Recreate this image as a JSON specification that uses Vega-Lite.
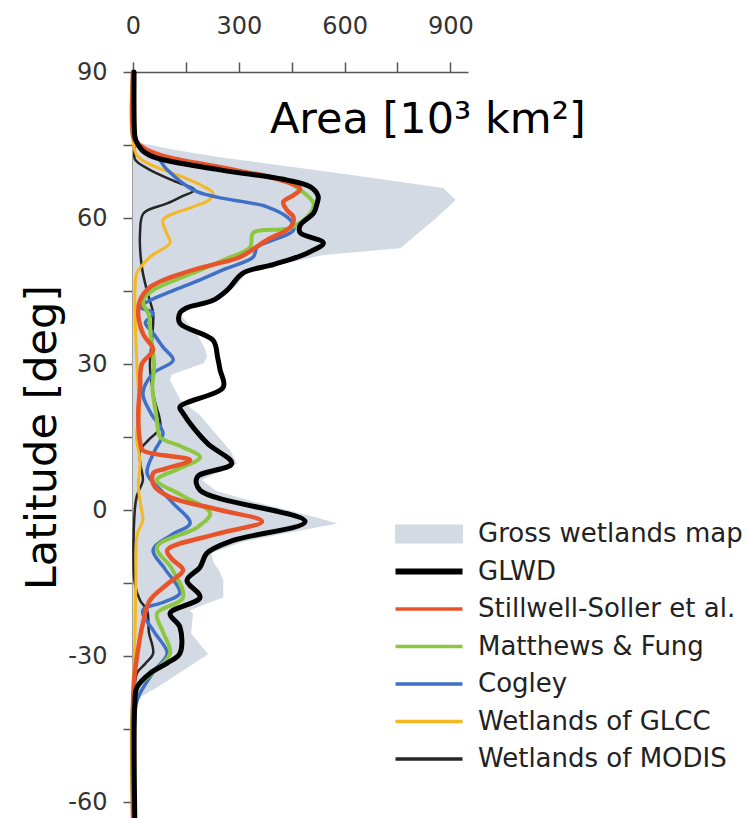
{
  "$schema": "https://vega.github.io/schema/vega-lite/v6.json",
  "width": 335,
  "height": 745,
  "autosize": {"type": "none"},
  "padding": {"left": 133, "top": 72, "right": 279, "bottom": 1},
  "config": {"view": {"stroke": null}, "font": "DejaVu Sans", "axis": {"grid": false}},
  "layer": [
    {
      "data": {"values": [
        {"series":"Gross wetlands map","lat":-63,"v":0},{"series":"Gross wetlands map","lat":-41,"v":0},{"series":"Gross wetlands map","lat":-40,"v":5},{"series":"Gross wetlands map","lat":-38.4,"v":20},{"series":"Gross wetlands map","lat":-36.4,"v":68},{"series":"Gross wetlands map","lat":-32.9,"v":142},{"series":"Gross wetlands map","lat":-29.6,"v":213},{"series":"Gross wetlands map","lat":-27.5,"v":190},{"series":"Gross wetlands map","lat":-25.3,"v":165},{"series":"Gross wetlands map","lat":-21.2,"v":170},{"series":"Gross wetlands map","lat":-20.6,"v":160},{"series":"Gross wetlands map","lat":-19,"v":215},{"series":"Gross wetlands map","lat":-17.9,"v":256},{"series":"Gross wetlands map","lat":-14.4,"v":256},{"series":"Gross wetlands map","lat":-12.5,"v":245},{"series":"Gross wetlands map","lat":-10.7,"v":228},{"series":"Gross wetlands map","lat":-8.8,"v":222},{"series":"Gross wetlands map","lat":-6.5,"v":310},{"series":"Gross wetlands map","lat":-4.7,"v":437},{"series":"Gross wetlands map","lat":-2.7,"v":580},{"series":"Gross wetlands map","lat":-1.5,"v":520},{"series":"Gross wetlands map","lat":0,"v":440},{"series":"Gross wetlands map","lat":2,"v":330},{"series":"Gross wetlands map","lat":4,"v":235},{"series":"Gross wetlands map","lat":6.2,"v":195},{"series":"Gross wetlands map","lat":9.6,"v":295},{"series":"Gross wetlands map","lat":12.3,"v":275},{"series":"Gross wetlands map","lat":19.5,"v":190},{"series":"Gross wetlands map","lat":22.6,"v":135},{"series":"Gross wetlands map","lat":26.7,"v":105},{"series":"Gross wetlands map","lat":27.9,"v":110},{"series":"Gross wetlands map","lat":30.2,"v":200},{"series":"Gross wetlands map","lat":31.4,"v":210},{"series":"Gross wetlands map","lat":33,"v":205},{"series":"Gross wetlands map","lat":36.4,"v":180},{"series":"Gross wetlands map","lat":38.4,"v":155},{"series":"Gross wetlands map","lat":40.5,"v":130},{"series":"Gross wetlands map","lat":42,"v":170},{"series":"Gross wetlands map","lat":43.1,"v":230},{"series":"Gross wetlands map","lat":45.2,"v":275},{"series":"Gross wetlands map","lat":46.2,"v":295},{"series":"Gross wetlands map","lat":48.7,"v":320},{"series":"Gross wetlands map","lat":50.5,"v":420},{"series":"Gross wetlands map","lat":52.4,"v":540},{"series":"Gross wetlands map","lat":53.8,"v":758},{"series":"Gross wetlands map","lat":57,"v":810},{"series":"Gross wetlands map","lat":60,"v":860},{"series":"Gross wetlands map","lat":63.7,"v":915},{"series":"Gross wetlands map","lat":66.2,"v":880},{"series":"Gross wetlands map","lat":68.8,"v":625},{"series":"Gross wetlands map","lat":72.5,"v":247},{"series":"Gross wetlands map","lat":74,"v":120},{"series":"Gross wetlands map","lat":75.4,"v":20},{"series":"Gross wetlands map","lat":76.5,"v":0},{"series":"Gross wetlands map","lat":90,"v":0}
      ]},
      "mark": {"type": "area", "orient": "horizontal", "interpolate": "linear"},
      "encoding": {
        "x": {"field": "v", "type": "quantitative", "stack": null,
          "scale": {"domain": [0, 950], "nice": false, "zero": false},
          "axis": {"orient": "top", "values": [0,150,300,450,600,750,900], "labelExpr": "datum.value % 300 === 0 ? datum.label : ''", "title": null, "labelFontSize": 24, "labelColor": "#333", "labelPadding": 24, "tickSize": 10, "tickColor": "#555", "tickWidth": 1.5, "domainColor": "#555", "domainWidth": 1.5, "labelFlush": false, "labelOverlap": false}},
        "y": {"field": "lat", "type": "quantitative",
          "scale": {"domain": [-63, 90], "nice": false, "zero": false},
          "axis": {"values": [-60,-45,-30,-15,0,15,30,45,60,75,90], "labelExpr": "datum.value % 30 === 0 ? '' + datum.value : ''", "title": "Latitude [deg]", "titleFontSize": 43, "titleFont": "DejaVu Sans", "titleFontWeight": "normal", "titleColor": "#000", "titleX": -78, "titleY": 365, "titleAngle": 270, "titleBaseline": "alphabetic", "titleAlign": "center", "labelFontSize": 24, "labelColor": "#333", "labelPadding": 16, "tickSize": 10, "tickColor": "#555", "tickWidth": 1.5, "domainColor": "#a0a0a0", "domainWidth": 3, "labelFlush": false, "labelOverlap": false}},
        "color": {"field": "series", "type": "nominal",
          "scale": {"domain": ["Gross wetlands map","GLWD","Stillwell-Soller et al.","Matthews & Fung","Cogley","Wetlands of GLCC","Wetlands of MODIS"],
                    "range": ["#d3dae3","#000000","#e8542a","#8dc641","#3f6fc6","#f5b820","#262626"]},
          "legend": {"orient": "none", "legendX": 283, "legendY": 449, "title": null, "symbolType": "stroke", "symbolSize": 4489, "labelFont": "DejaVu Sans", "labelFontSize": 26, "labelColor": "#222", "labelOffset": 36, "rowPadding": 11.5, "labelLimit": 400,
            "encode": {"symbols": {"update": {
              "shape": {"signal": "datum.value === 'Gross wetlands map' ? 'M-1,-0.27H1V0.27H-1Z' : 'stroke'"},
              "fill": {"signal": "datum.value === 'Gross wetlands map' ? '#d3dae3' : 'transparent'"},
              "stroke": {"signal": "datum.value === 'Gross wetlands map' ? '#c3cad4' : scale('color', datum.value)"},
              "strokeWidth": {"signal": "datum.value === 'GLWD' ? 6 : datum.value === 'Gross wetlands map' ? 1 : 3.5"},
              "opacity": {"value": 1}
            }}}}}
      }
    },
    {
      "data": {"values": [
        {"series":"Wetlands of MODIS","lat":90,"v":2},{"series":"Wetlands of MODIS","lat":77,"v":3},{"series":"Wetlands of MODIS","lat":74,"v":4},{"series":"Wetlands of MODIS","lat":72,"v":6},{"series":"Wetlands of MODIS","lat":69.9,"v":48},{"series":"Wetlands of MODIS","lat":67.5,"v":120},{"series":"Wetlands of MODIS","lat":65.8,"v":175},{"series":"Wetlands of MODIS","lat":64.5,"v":140},{"series":"Wetlands of MODIS","lat":63,"v":97},{"series":"Wetlands of MODIS","lat":61,"v":30},{"series":"Wetlands of MODIS","lat":57,"v":20},{"series":"Wetlands of MODIS","lat":50,"v":25},{"series":"Wetlands of MODIS","lat":45,"v":40},{"series":"Wetlands of MODIS","lat":43,"v":48},{"series":"Wetlands of MODIS","lat":40.5,"v":57},{"series":"Wetlands of MODIS","lat":36,"v":55},{"series":"Wetlands of MODIS","lat":29.4,"v":48},{"series":"Wetlands of MODIS","lat":23,"v":60},{"series":"Wetlands of MODIS","lat":17,"v":77},{"series":"Wetlands of MODIS","lat":14.5,"v":45},{"series":"Wetlands of MODIS","lat":12.3,"v":20},{"series":"Wetlands of MODIS","lat":9,"v":22},{"series":"Wetlands of MODIS","lat":6.2,"v":28},{"series":"Wetlands of MODIS","lat":3,"v":11},{"series":"Wetlands of MODIS","lat":0,"v":5},{"series":"Wetlands of MODIS","lat":-15,"v":5},{"series":"Wetlands of MODIS","lat":-18.5,"v":20},{"series":"Wetlands of MODIS","lat":-20.6,"v":40},{"series":"Wetlands of MODIS","lat":-25,"v":45},{"series":"Wetlands of MODIS","lat":-29.4,"v":57},{"series":"Wetlands of MODIS","lat":-31.5,"v":35},{"series":"Wetlands of MODIS","lat":-33.5,"v":11},{"series":"Wetlands of MODIS","lat":-40,"v":3},{"series":"Wetlands of MODIS","lat":-63,"v":2},

        {"series":"Wetlands of GLCC","lat":90,"v":0},{"series":"Wetlands of GLCC","lat":76,"v":0},{"series":"Wetlands of GLCC","lat":73,"v":10},{"series":"Wetlands of GLCC","lat":71.3,"v":40},{"series":"Wetlands of GLCC","lat":68.4,"v":142},{"series":"Wetlands of GLCC","lat":66.5,"v":200},{"series":"Wetlands of GLCC","lat":65.1,"v":227},{"series":"Wetlands of GLCC","lat":63.7,"v":215},{"series":"Wetlands of GLCC","lat":62.3,"v":170},{"series":"Wetlands of GLCC","lat":59.6,"v":85},{"series":"Wetlands of GLCC","lat":57,"v":95},{"series":"Wetlands of GLCC","lat":54.9,"v":105},{"series":"Wetlands of GLCC","lat":52,"v":48},{"series":"Wetlands of GLCC","lat":48.7,"v":11},{"series":"Wetlands of GLCC","lat":45.8,"v":6},{"series":"Wetlands of GLCC","lat":40,"v":6},{"series":"Wetlands of GLCC","lat":30,"v":11},{"series":"Wetlands of GLCC","lat":25,"v":15},{"series":"Wetlands of GLCC","lat":20,"v":18},{"series":"Wetlands of GLCC","lat":15,"v":10},{"series":"Wetlands of GLCC","lat":10,"v":20},{"series":"Wetlands of GLCC","lat":5,"v":15},{"series":"Wetlands of GLCC","lat":1,"v":22},{"series":"Wetlands of GLCC","lat":-2,"v":28},{"series":"Wetlands of GLCC","lat":-5,"v":12},{"series":"Wetlands of GLCC","lat":-15,"v":8},{"series":"Wetlands of GLCC","lat":-25,"v":6},{"series":"Wetlands of GLCC","lat":-35,"v":2},{"series":"Wetlands of GLCC","lat":-40,"v":0},{"series":"Wetlands of GLCC","lat":-63,"v":0},

        {"series":"Cogley","lat":90,"v":0},{"series":"Cogley","lat":77,"v":0},{"series":"Cogley","lat":76,"v":5},{"series":"Cogley","lat":74,"v":30},{"series":"Cogley","lat":72.5,"v":68},{"series":"Cogley","lat":69.9,"v":97},{"series":"Cogley","lat":65.8,"v":170},{"series":"Cogley","lat":64.3,"v":238},{"series":"Cogley","lat":62.3,"v":380},{"series":"Cogley","lat":59.6,"v":446},{"series":"Cogley","lat":57.5,"v":455},{"series":"Cogley","lat":55.5,"v":398},{"series":"Cogley","lat":54,"v":352},{"series":"Cogley","lat":52,"v":341},{"series":"Cogley","lat":49.5,"v":260},{"series":"Cogley","lat":47.3,"v":190},{"series":"Cogley","lat":45,"v":110},{"series":"Cogley","lat":43.1,"v":48},{"series":"Cogley","lat":41.7,"v":20},{"series":"Cogley","lat":40.5,"v":57},{"series":"Cogley","lat":38.5,"v":35},{"series":"Cogley","lat":36.4,"v":57},{"series":"Cogley","lat":33.5,"v":85},{"series":"Cogley","lat":30.8,"v":114},{"series":"Cogley","lat":28.1,"v":57},{"series":"Cogley","lat":24,"v":28},{"series":"Cogley","lat":20,"v":50},{"series":"Cogley","lat":15.8,"v":85},{"series":"Cogley","lat":12,"v":60},{"series":"Cogley","lat":7.6,"v":40},{"series":"Cogley","lat":4,"v":80},{"series":"Cogley","lat":1.4,"v":114},{"series":"Cogley","lat":-2.7,"v":162},{"series":"Cogley","lat":-5,"v":110},{"series":"Cogley","lat":-8.2,"v":57},{"series":"Cogley","lat":-12,"v":90},{"series":"Cogley","lat":-17,"v":133},{"series":"Cogley","lat":-18.8,"v":90},{"series":"Cogley","lat":-20.6,"v":28},{"series":"Cogley","lat":-25,"v":60},{"series":"Cogley","lat":-29.4,"v":97},{"series":"Cogley","lat":-33,"v":60},{"series":"Cogley","lat":-37.6,"v":20},{"series":"Cogley","lat":-40,"v":8},{"series":"Cogley","lat":-55,"v":3},{"series":"Cogley","lat":-63,"v":2},

        {"series":"Matthews & Fung","lat":90,"v":0},{"series":"Matthews & Fung","lat":77,"v":0},{"series":"Matthews & Fung","lat":75,"v":15},{"series":"Matthews & Fung","lat":73,"v":60},{"series":"Matthews & Fung","lat":70,"v":250},{"series":"Matthews & Fung","lat":68,"v":420},{"series":"Matthews & Fung","lat":65.8,"v":474},{"series":"Matthews & Fung","lat":63,"v":512},{"series":"Matthews & Fung","lat":61,"v":503},{"series":"Matthews & Fung","lat":58,"v":446},{"series":"Matthews & Fung","lat":57,"v":341},{"series":"Matthews & Fung","lat":54,"v":332},{"series":"Matthews & Fung","lat":51.5,"v":260},{"series":"Matthews & Fung","lat":49.3,"v":190},{"series":"Matthews & Fung","lat":47,"v":110},{"series":"Matthews & Fung","lat":45.2,"v":57},{"series":"Matthews & Fung","lat":43,"v":28},{"series":"Matthews & Fung","lat":40,"v":45},{"series":"Matthews & Fung","lat":36,"v":50},{"series":"Matthews & Fung","lat":30,"v":60},{"series":"Matthews & Fung","lat":25,"v":55},{"series":"Matthews & Fung","lat":20,"v":65},{"series":"Matthews & Fung","lat":17,"v":70},{"series":"Matthews & Fung","lat":15,"v":77},{"series":"Matthews & Fung","lat":13,"v":140},{"series":"Matthews & Fung","lat":10.9,"v":190},{"series":"Matthews & Fung","lat":8.5,"v":130},{"series":"Matthews & Fung","lat":6.2,"v":68},{"series":"Matthews & Fung","lat":3,"v":140},{"series":"Matthews & Fung","lat":-0.6,"v":219},{"series":"Matthews & Fung","lat":-3.5,"v":182},{"series":"Matthews & Fung","lat":-7.6,"v":68},{"series":"Matthews & Fung","lat":-12,"v":110},{"series":"Matthews & Fung","lat":-17.9,"v":142},{"series":"Matthews & Fung","lat":-21.2,"v":68},{"series":"Matthews & Fung","lat":-25,"v":85},{"series":"Matthews & Fung","lat":-29.4,"v":105},{"series":"Matthews & Fung","lat":-34.3,"v":40},{"series":"Matthews & Fung","lat":-36.4,"v":11},{"series":"Matthews & Fung","lat":-40,"v":0},{"series":"Matthews & Fung","lat":-63,"v":0},

        {"series":"Stillwell-Soller et al.","lat":90,"v":0},{"series":"Stillwell-Soller et al.","lat":77,"v":0},{"series":"Stillwell-Soller et al.","lat":76,"v":5},{"series":"Stillwell-Soller et al.","lat":74,"v":40},{"series":"Stillwell-Soller et al.","lat":72.5,"v":100},{"series":"Stillwell-Soller et al.","lat":70,"v":280},{"series":"Stillwell-Soller et al.","lat":68,"v":410},{"series":"Stillwell-Soller et al.","lat":66,"v":474},{"series":"Stillwell-Soller et al.","lat":64.7,"v":455},{"series":"Stillwell-Soller et al.","lat":63.3,"v":426},{"series":"Stillwell-Soller et al.","lat":61.6,"v":437},{"series":"Stillwell-Soller et al.","lat":60.2,"v":455},{"series":"Stillwell-Soller et al.","lat":58.1,"v":446},{"series":"Stillwell-Soller et al.","lat":55.5,"v":380},{"series":"Stillwell-Soller et al.","lat":52,"v":304},{"series":"Stillwell-Soller et al.","lat":50.5,"v":230},{"series":"Stillwell-Soller et al.","lat":48.7,"v":142},{"series":"Stillwell-Soller et al.","lat":45.8,"v":48},{"series":"Stillwell-Soller et al.","lat":43.1,"v":20},{"series":"Stillwell-Soller et al.","lat":40,"v":15},{"series":"Stillwell-Soller et al.","lat":36,"v":30},{"series":"Stillwell-Soller et al.","lat":33,"v":57},{"series":"Stillwell-Soller et al.","lat":30,"v":25},{"series":"Stillwell-Soller et al.","lat":25,"v":20},{"series":"Stillwell-Soller et al.","lat":20,"v":15},{"series":"Stillwell-Soller et al.","lat":14,"v":20},{"series":"Stillwell-Soller et al.","lat":12.3,"v":28},{"series":"Stillwell-Soller et al.","lat":10.3,"v":162},{"series":"Stillwell-Soller et al.","lat":8.5,"v":90},{"series":"Stillwell-Soller et al.","lat":7.6,"v":57},{"series":"Stillwell-Soller et al.","lat":5,"v":60},{"series":"Stillwell-Soller et al.","lat":2.7,"v":105},{"series":"Stillwell-Soller et al.","lat":0,"v":250},{"series":"Stillwell-Soller et al.","lat":-2.3,"v":366},{"series":"Stillwell-Soller et al.","lat":-5,"v":230},{"series":"Stillwell-Soller et al.","lat":-8.2,"v":97},{"series":"Stillwell-Soller et al.","lat":-10,"v":110},{"series":"Stillwell-Soller et al.","lat":-12.3,"v":142},{"series":"Stillwell-Soller et al.","lat":-15,"v":100},{"series":"Stillwell-Soller et al.","lat":-18.5,"v":48},{"series":"Stillwell-Soller et al.","lat":-23.2,"v":28},{"series":"Stillwell-Soller et al.","lat":-30.2,"v":11},{"series":"Stillwell-Soller et al.","lat":-35,"v":3},{"series":"Stillwell-Soller et al.","lat":-40,"v":0},{"series":"Stillwell-Soller et al.","lat":-63,"v":0},

        {"series":"GLWD","lat":90,"v":3},{"series":"GLWD","lat":77,"v":5},{"series":"GLWD","lat":76,"v":8},{"series":"GLWD","lat":74,"v":25},{"series":"GLWD","lat":72.5,"v":60},{"series":"GLWD","lat":69.9,"v":247},{"series":"GLWD","lat":67.8,"v":437},{"series":"GLWD","lat":66.4,"v":503},{"series":"GLWD","lat":64.5,"v":525},{"series":"GLWD","lat":63,"v":522},{"series":"GLWD","lat":61,"v":512},{"series":"GLWD","lat":58.5,"v":474},{"series":"GLWD","lat":57,"v":474},{"series":"GLWD","lat":54.9,"v":540},{"series":"GLWD","lat":52.8,"v":494},{"series":"GLWD","lat":50.5,"v":400},{"series":"GLWD","lat":48.7,"v":312},{"series":"GLWD","lat":45.2,"v":267},{"series":"GLWD","lat":43.1,"v":227},{"series":"GLWD","lat":41.5,"v":150},{"series":"GLWD","lat":40.5,"v":133},{"series":"GLWD","lat":38.4,"v":133},{"series":"GLWD","lat":34.9,"v":227},{"series":"GLWD","lat":31.4,"v":240},{"series":"GLWD","lat":28.8,"v":247},{"series":"GLWD","lat":25.3,"v":256},{"series":"GLWD","lat":21.2,"v":133},{"series":"GLWD","lat":19.9,"v":142},{"series":"GLWD","lat":13.8,"v":210},{"series":"GLWD","lat":9.6,"v":280},{"series":"GLWD","lat":6.8,"v":182},{"series":"GLWD","lat":4.1,"v":190},{"series":"GLWD","lat":-2.3,"v":488},{"series":"GLWD","lat":-6.2,"v":284},{"series":"GLWD","lat":-8.8,"v":210},{"series":"GLWD","lat":-11.7,"v":190},{"series":"GLWD","lat":-14.4,"v":153},{"series":"GLWD","lat":-17.9,"v":190},{"series":"GLWD","lat":-21.2,"v":105},{"series":"GLWD","lat":-24,"v":133},{"series":"GLWD","lat":-29.4,"v":133},{"series":"GLWD","lat":-31.4,"v":97},{"series":"GLWD","lat":-33.5,"v":48},{"series":"GLWD","lat":-36.4,"v":11},{"series":"GLWD","lat":-40,"v":5},{"series":"GLWD","lat":-63,"v":5}
      ]},
      "mark": {"type": "line", "interpolate": "catmull-rom", "strokeJoin": "round", "strokeCap": "round"},
      "encoding": {
        "x": {"field": "v", "type": "quantitative"},
        "y": {"field": "lat", "type": "quantitative"},
        "order": {"field": "lat", "type": "quantitative"},
        "color": {"field": "series", "type": "nominal"},
        "strokeWidth": {"field": "series", "type": "ordinal", "legend": null,
          "scale": {"domain": ["GLWD","Stillwell-Soller et al.","Matthews & Fung","Cogley","Wetlands of GLCC","Wetlands of MODIS"], "range": [5, 2.5, 2.5, 2.5, 2.5, 2]}}
      }
    },
    {
      "data": {"values": [{"label": "Area [10³ km²]"}]},
      "mark": {"type": "text", "font": "DejaVu Sans", "fontSize": 43, "align": "center", "baseline": "alphabetic", "color": "#000"},
      "encoding": {
        "x": {"datum": 836},
        "y": {"datum": 77.5},
        "text": {"field": "label", "type": "nominal"}
      }
    }
  ]
}
